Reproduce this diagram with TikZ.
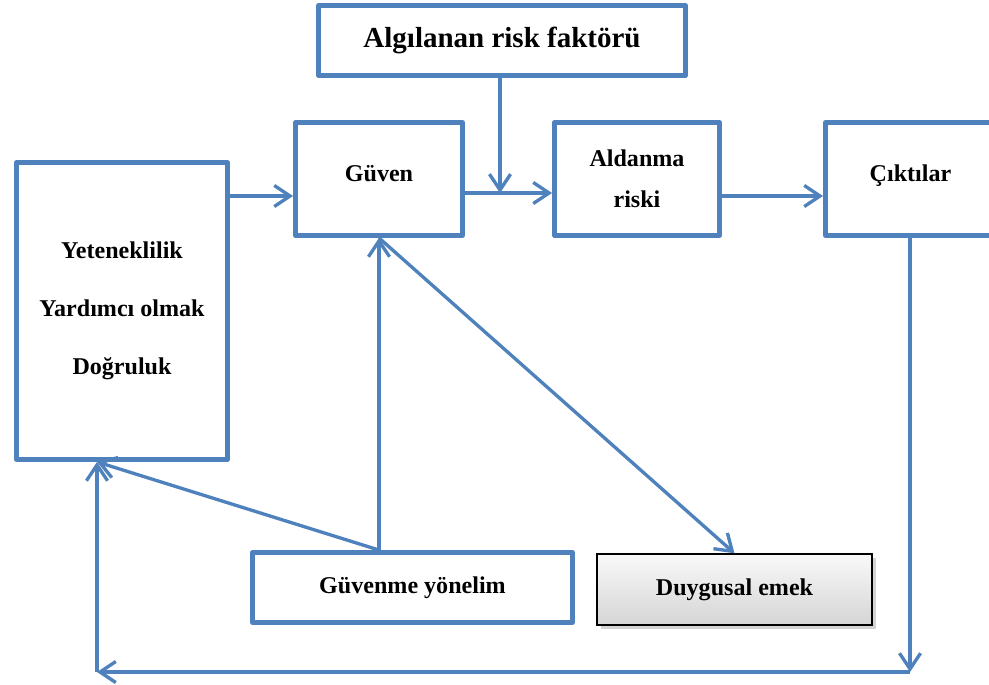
\documentclass[tikz,border=0pt]{standalone}
\usepackage{fontspec}
\setmainfont{Liberation Serif}
\usetikzlibrary{positioning,arrows.meta,shadows}
\definecolor{modelBlue}{HTML}{4F81BD}
\definecolor{modelInk}{HTML}{000000}
\tikzset{
  blockbox/.style={
    draw=modelBlue, line width=2.8pt, line join=round,
    fill=white, inner sep=0pt, align=center, text=modelInk,
    font=\bfseries\fontsize{13.7}{23.3}\selectfont
  },
  greybox/.style={
    draw=modelInk, line width=0.8pt, top color=gray!5, bottom color=gray!33,
    drop shadow={shadow xshift=2pt, shadow yshift=-2pt, opacity=0.35},
    inner sep=0pt, text=modelInk,
    font=\bfseries\fontsize{13.7}{23.3}\selectfont
  },
  flowline/.style ={draw=modelBlue, line width=1.9pt},
  flowarrow/.style={flowline, -{Straight Barb[length=9pt,width=12pt]}},
}

\begin{document}
\begin{tikzpicture}[x=0.02cm,y=-0.02cm]

% --- page frame (pixel grid of the reference) -------------------------------
\useasboundingbox (0,0) rectangle (989,685);

% --- top row ----------------------------------------------------------------
\node[blockbox, minimum width=7.34cm, minimum height=1.40cm,
      font=\bfseries\fontsize{16.5}{20}\selectfont]
  (risk) at (502,40.5) {Algılanan risk faktörü};
\node[blockbox, minimum width=3.34cm, minimum height=2.26cm, text depth=6.8pt]
  (guven) at (379,179) {Güven};
\node[blockbox, minimum width=3.30cm, minimum height=2.26cm]
  (aldanma) at (637,179) {Aldanma\\riski};
\node[blockbox, minimum width=3.40cm, minimum height=2.26cm, text depth=6.8pt]
  (ciktilar) at (910.5,179) {Çıktılar};

% --- left block -------------------------------------------------------------
\node[blockbox, minimum width=4.22cm, minimum height=5.94cm,
      font=\bfseries\fontsize{13.7}{33}\selectfont]
  (nitelik) at (122,311) {Yeteneklilik\\Yardımcı olmak\\Doğruluk};

% --- bottom row -------------------------------------------------------------
\node[blockbox, minimum width=6.40cm, minimum height=1.40cm]
  (yonelim) at (412.5,587.5) {Güvenme yönelim};
\node[greybox, minimum width=5.50cm, minimum height=1.42cm]
  (emek) at (734.5,589.5) {Duygusal emek};

% --- helper points ----------------------------------------------------------
\coordinate (rowA)  at (0,196);    % level of the outer flow arrows
\coordinate (join)  at (500,193);  % risk arrow meets trust line
\coordinate (loopR) at (910,672);  % feedback loop, right corner
\coordinate (loopL) at (97,672);   % feedback loop, left corner
\coordinate (base)  at (guven.south |- yonelim.north);

% --- main flow --------------------------------------------------------------
\draw[flowarrow] (nitelik.east |- rowA) -- (guven.west |- rowA);
\draw[flowarrow] (guven.east |- join) -- (aldanma.west |- join);
\draw[flowarrow] (risk.south -| join) -- (join);
\draw[flowarrow] (aldanma.east |- rowA) -- (ciktilar.west |- rowA);

% --- feedback loop ----------------------------------------------------------
\draw[flowarrow] (ciktilar.south -| loopR) -- (loopR);
\draw[flowarrow] (loopR) -- (loopL);
\draw[flowarrow] (loopL) -- (nitelik.south -| loopL);

% --- trust orientation & emotional labour -----------------------------------
\draw[flowarrow] (base) -- (guven.south);
\draw[flowarrow] (base) -- (nitelik.south -| loopL);
\draw[flowarrow] (guven.south) -- (emek.north);

\end{tikzpicture}
\end{document}
